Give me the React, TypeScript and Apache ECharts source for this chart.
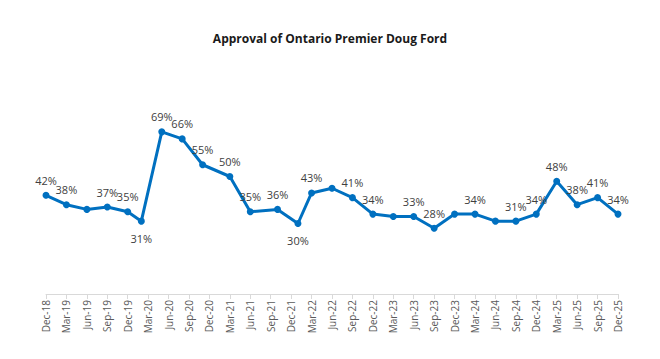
import React, { useEffect, useRef } from "react";
import * as echarts from "echarts";

const monthNames = ["Jan", "Feb", "Mar", "Apr", "May", "Jun", "Jul", "Aug", "Sep", "Oct", "Nov", "Dec"];
const startYear = 2018;
const startMonth = 11; // Dec
const monthCount = 85; // Dec-18 .. Dec-25

const pointDates = [
  "Dec-18", "Mar-19", "Jun-19", "Sep-19", "Dec-19", "Feb-20", "May-20", "Aug-20", "Nov-20",
  "Mar-21", "Jun-21", "Oct-21", "Jan-22", "Mar-22", "Jun-22", "Sep-22", "Dec-22", "Mar-23",
  "Jun-23", "Sep-23", "Dec-23", "Mar-24", "Jun-24", "Sep-24", "Dec-24", "Mar-25", "Jun-25",
  "Sep-25", "Dec-25",
];
const approval = [
  42, 38, 36, 37, 35, 31, 69, 66, 55,
  50, 35, 36, 30, 43, 45, 41, 34, 33,
  33, 28, 34, 34, 31, 31, 34, 48, 38,
  41, 34,
];
const hiddenLabels = ["Jun-19", "Jun-22", "Mar-23", "Dec-23", "Jun-24"];
const labelsBelow = ["Feb-20", "Jan-22"];

const titleText = "Approval of Ontario Premier Doug Ford";

function buildCategories(): string[] {
  const out: string[] = [];
  for (let i = 0; i < monthCount; i++) {
    const m = (startMonth + i) % 12;
    const y = startYear + Math.floor((startMonth + i) / 12);
    out.push(`${monthNames[m]}-${String(y % 100).padStart(2, "0")}`);
  }
  return out;
}

export default function App() {
  const ref = useRef<HTMLDivElement>(null);
  useEffect(() => {
    if (!ref.current) return;
    const chart = echarts.init(ref.current, undefined, { renderer: "svg" });
    const categories = buildCategories();
    const data = pointDates.map((d, i) => {
      const item: any = { value: [d, approval[i]] };
      if (hiddenLabels.includes(d)) item.label = { show: false };
      else if (labelsBelow.includes(d)) item.label = { position: "bottom", distance: 8 };
      return item;
    });
    const font = "'Open Sans', 'Noto Sans', sans-serif";
    chart.setOption({
      animation: false,
      backgroundColor: "#ffffff",
      title: {
        text: titleText,
        left: "center",
        top: 27,
        textStyle: { fontFamily: font, fontWeight: "bold", fontSize: 12, color: "#1a1a1a" },
      },
      grid: { left: 46, right: 42, top: 106, bottom: 65, containLabel: false },
      xAxis: {
        type: "category",
        data: categories,
        boundaryGap: false,
        axisLine: { lineStyle: { color: "#d9d9d9", width: 1 } },
        axisTick: { show: true, interval: 2, length: 5, lineStyle: { color: "#d9d9d9" } },
        axisLabel: {
          interval: 2,
          rotate: 90,
          margin: 6,
          fontFamily: font,
          fontSize: 10,
          color: "#595959",
        },
        splitLine: { show: false },
      },
      yAxis: {
        type: "value",
        min: 0,
        max: 80,
        show: false,
        splitLine: { show: false },
      },
      series: [
        {
          type: "line",
          data,
          symbol: "circle",
          symbolSize: 7,
          showAllSymbol: true,
          lineStyle: { color: "#0070C0", width: 3 },
          itemStyle: { color: "#0070C0" },
          labelLayout: { hideOverlap: false },
          label: {
            show: true,
            position: "top",
            distance: 6,
            formatter: (p: any) => `${p.value[1]}%`,
            fontFamily: font,
            fontSize: 11,
            color: "#404040",
          },
        },
      ],
    });
    return () => chart.dispose();
  }, []);
  return (
    <div
      ref={ref}
      style={{ position: "fixed", left: 0, top: 0, width: 660, height: 359, background: "#fff" }}
    />
  );
}
